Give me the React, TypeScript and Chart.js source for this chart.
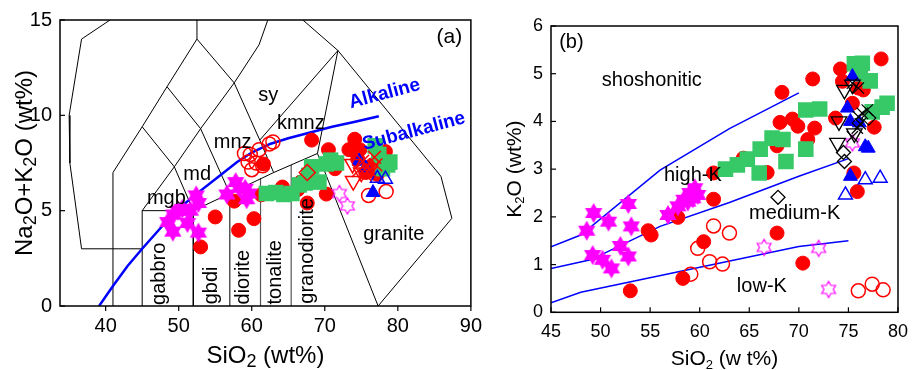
import React, { useEffect, useRef } from 'react';
import { Chart, registerables } from 'chart.js';
Chart.register(...registerables);

type P = [number, number];
const FONT = '"Liberation Sans", Arial, Helvetica, sans-serif';
const RED = '#ff0000';
const GREEN = '#37c867';
const MAG = '#ff00ff';
const BLUE = '#0000ff';
const NONE = 'rgba(0,0,0,0)';

// ---------- Panel (a): TAS ----------
const aXTicks = [40, 50, 60, 70, 80, 90];
const aYTicks = [0, 5, 10, 15];

const aBoundaries: P[][] = [
  [[40.6, 15], [36.7, 14], [35, 10], [35.1, 7.5], [36.7, 3], [45, 3]],
  [[41, 0], [41, 7], [45, 9.4], [48.4, 11.5], [52.5, 14], [52.5, 15]],
  [[52.5, 14], [57.6, 11.7], [61.1, 8.7], [63, 7]],
  [[45, 0], [45, 5], [52, 5], [52, 0]],
  [[45, 5], [49.4, 7.3], [52, 5]],
  [[45, 9.4], [49.4, 7.3], [53, 9.3], [57, 5.9]],
  [[48.4, 11.5], [53, 9.3], [57.6, 11.7]],
  [[52, 5], [57, 5.9], [63, 7], [69, 8], [77.3, 0]],
  [[57, 0], [57, 5.9]],
  [[57.6, 11.7], [61, 13.7], [62.2, 15]],
  [[61.1, 8.7], [71.8, 13.4]],
  [[67, 15], [71.8, 13.4], [69, 8]],
  [[71.8, 13.4], [85.9, 6.8], [87.4, 4.6], [77.3, 0]],
];
const aGreyLines: P[][] = [
  [[61.2, 0], [61.2, 6.7]],
  [[65.4, 0], [65.4, 7.4]],
];
const aIrvine: P[] = [[39.1, 0], [41, 1.05], [43, 2.1], [45, 3.0], [48, 4.3], [50, 5.1], [52, 5.75], [55, 6.65], [58, 7.55], [60, 8.05], [62.5, 8.5], [65, 8.8], [68, 9.1], [71, 9.4], [74, 9.65], [77.4, 9.95]];

const aRedFilled: P[] = [[53.0, 3.1], [55.0, 4.67], [57.6, 5.5], [58.2, 3.97], [60.3, 4.58], [61.3, 5.83], [61.6, 7.45], [64.2, 6.24], [66.3, 6.1], [66.7, 6.5], [68.2, 8.7], [70.5, 8.2], [71.4, 7.2], [70.2, 5.87], [67.6, 5.4], [73.3, 8.2], [74.1, 8.75], [74.8, 8.2], [78.3, 8.1], [75.6, 7.0], [76.5, 7.4], [77.2, 6.9], [74.5, 7.7]];
const aRedOpen: P[] = [[59.0, 8.0], [59.5, 7.55], [60.0, 7.15], [60.6, 7.5], [59.8, 7.95], [61.0, 8.2], [61.5, 7.35], [62.4, 8.5], [62.9, 8.6], [76.0, 5.8], [78.4, 6.0]];
const aGreen: P[] = [[62.0, 5.9], [63.3, 5.95], [64.4, 5.85], [65.5, 5.9], [66.5, 6.35], [67.3, 6.45], [67.8, 6.85], [68.2, 7.3], [69.2, 6.5], [70.2, 7.45], [70.8, 7.65], [71.6, 7.5], [76.9, 8.4], [77.4, 7.95], [77.9, 7.2], [78.6, 7.4], [78.9, 7.55]];
const aMagFilled: P[] = [[48.5, 4.4], [49.2, 3.9], [49.3, 4.8], [49.9, 5.0], [50.5, 5.1], [51.2, 4.35], [51.6, 5.0], [52.4, 5.8], [52.7, 5.4], [52.7, 3.85], [56.6, 5.85], [57.8, 6.5], [58.3, 6.2], [59.1, 6.15], [59.3, 5.6], [59.6, 5.9]];
const aMagOpen: P[] = [[72.0, 5.9], [73.1, 5.25]];
const aRedDiamond: P[] = [[67.6, 7.0]];
const aRedTriDown: P[] = [[73.8, 7.45], [73.9, 6.55], [75.0, 7.0], [76.2, 7.2]];
const aRedCross: P[] = [[75.2, 7.6], [75.8, 7.3], [76.4, 7.0], [77.0, 7.4], [75.5, 6.9], [76.8, 7.8], [74.6, 7.1]];
const aBlueFilled: P[] = [[74.7, 7.6], [76.6, 5.95], [75.6, 7.25]];
const aBlueOpen: P[] = [[78.3, 6.65], [77.2, 6.7]];

// ---------- Panel (b): K2O vs SiO2 ----------
const bXTicks = [45, 50, 55, 60, 65, 70, 75, 80];
const bYTicks = [0, 1, 2, 3, 4, 5, 6];
const bLine1: P[] = [[45, 1.37], [48, 1.62], [56, 2.98], [63, 3.85], [70, 4.6]];
const bLine2: P[] = [[45, 0.92], [49, 1.1], [56, 1.8], [63, 2.3], [70, 2.85], [75, 3.22]];
const bLine3: P[] = [[45, 0.2], [48, 0.42], [70, 1.38], [75, 1.5]];

const bRedFilled: P[] = [[53.0, 0.45], [54.8, 1.71], [55.1, 1.62], [57.8, 1.99], [58.3, 0.71], [60.4, 1.48], [61.4, 2.37], [61.4, 2.92], [66.8, 2.93], [64.4, 3.23], [67.8, 3.49], [68.3, 4.61], [68.1, 3.98], [69.35, 4.05], [69.9, 3.9], [71.4, 4.89], [70.9, 3.62], [71.6, 3.86], [67.8, 1.66], [70.4, 1.03], [73.7, 4.07], [74.2, 5.1], [74.4, 4.84], [75.4, 4.38], [75.55, 2.92], [75.9, 2.53], [78.3, 5.31], [77.6, 3.88], [76.5, 4.66], [76.0, 4.7]];
const bRedOpen: P[] = [[61.4, 1.81], [63.0, 1.66], [59.8, 1.34], [59.1, 0.80], [61.0, 1.06], [62.3, 1.01], [76.0, 0.45], [77.4, 0.59], [78.5, 0.47]];
const bGreen: P[] = [[62.6, 3.0], [63.8, 3.09], [64.8, 3.21], [66.0, 2.92], [66.1, 3.42], [67.3, 3.65], [68.4, 3.62], [68.7, 3.16], [70.7, 3.42], [70.7, 4.24], [72.1, 4.26], [75.6, 5.21], [76.4, 5.22], [76.2, 5.0], [77.2, 4.85], [77.4, 4.2], [78.4, 4.3], [78.9, 4.38]];
const bMagFilled: P[] = [[48.6, 1.71], [49.3, 2.08], [50.8, 1.9], [52.8, 2.27], [53.1, 1.8], [49.2, 1.2], [50.2, 1.1], [51.1, 0.92], [52.0, 1.39], [52.8, 1.17], [56.8, 2.04], [57.8, 2.22], [58.4, 2.36], [58.8, 2.32], [59.0, 2.5], [59.3, 2.39], [59.5, 2.6], [59.8, 2.46]];
const bMagOpen: P[] = [[66.5, 1.36], [72.0, 1.34], [73.0, 0.48], [75.4, 3.55]];
const bBlackDiamond: P[] = [[67.9, 2.41], [74.6, 3.16], [74.5, 3.35], [77.05, 4.07]];
const bBlackTriDown: P[] = [[74.6, 4.66], [75.4, 4.77], [74.05, 4.0], [73.9, 3.55], [75.6, 3.75]];
const bBlackCross: P[] = [[75.4, 4.8], [76.0, 4.7], [76.4, 4.17], [76.9, 4.24], [75.9, 3.86], [75.4, 3.68], [76.2, 3.95], [76.0, 4.1]];
const bBlueFilled: P[] = [[75.4, 4.94], [74.9, 4.28], [75.2, 4.0], [76.1, 3.97], [76.7, 3.47], [77.0, 3.44], [75.2, 2.85]];
const bBlueOpen: P[] = [[74.7, 2.46], [76.7, 2.78], [78.2, 2.81]];

type Label = { t: string; x: number; y: number; rot?: number; size?: number; color?: string; bold?: boolean };
const aLabels: Label[] = [
  { t: 'sy', x: 62.26, y: 11.03 },
  { t: 'kmnz', x: 66.72, y: 9.59 },
  { t: 'mnz', x: 57.39, y: 8.56 },
  { t: 'md', x: 52.54, y: 6.92 },
  { t: 'mgb', x: 48.31, y: 5.63 },
  { t: 'gabbro', x: 47.39, y: 1.69, rot: -90 },
  { t: 'gbdi', x: 54.45, y: 1.08, rot: -90 },
  { t: 'diorite', x: 58.85, y: 1.51, rot: -90 },
  { t: 'tonalite', x: 63.31, y: 1.77, rot: -90 },
  { t: 'granodiorite', x: 67.6, y: 2.89, rot: -90 },
  { t: 'granite', x: 79.45, y: 3.75 },
  { t: '(a)', x: 87.05, y: 14.09, size: 21 },
  { t: 'Alkaline', x: 78.2, y: 11.13, rot: -15, size: 19, color: BLUE, bold: true },
  { t: 'Subalkaline', x: 82.2, y: 9.16, rot: -15, size: 19, color: BLUE, bold: true },
];
const bLabels: Label[] = [
  { t: '(b)', x: 47.06, y: 5.66 },
  { t: 'shoshonitic', x: 55.17, y: 4.86 },
  { t: 'high-K', x: 59.31, y: 2.86 },
  { t: 'medium-K', x: 69.58, y: 2.08 },
  { t: 'low-K', x: 66.27, y: 0.54 },
];

type Part = [string, boolean];
function drawRich(ctx: CanvasRenderingContext2D, parts: Part[], x: number, y: number, size: number, rot: number, subScale: number) {
  ctx.save();
  ctx.translate(x, y);
  ctx.rotate(rot);
  const main = `${size}px ${FONT}`;
  const sub = `${Math.round(size * subScale)}px ${FONT}`;
  let w = 0;
  for (const [t, s] of parts) { ctx.font = s ? sub : main; w += ctx.measureText(t).width; }
  let cx = -w / 2;
  ctx.fillStyle = '#000';
  ctx.textAlign = 'left';
  ctx.textBaseline = 'alphabetic';
  const base = size * 0.36;
  for (const [t, s] of parts) {
    ctx.font = s ? sub : main;
    ctx.fillText(t, cx, s ? base + size * 0.18 : base);
    cx += ctx.measureText(t).width;
  }
  ctx.restore();
}

function hexagram(R: number, fill: boolean, color: string, lw = 1.2) {
  const s = Math.ceil(R * 2 + 4);
  const c = document.createElement('canvas');
  c.width = s; c.height = s;
  const g = c.getContext('2d')!;
  g.translate(s / 2, s / 2);
  g.beginPath();
  const r = R / Math.sqrt(3);
  for (let i = 0; i < 12; i++) {
    const a = -Math.PI / 2 + (i * Math.PI) / 6;
    const rr = i % 2 === 0 ? R : r;
    g.lineTo(rr * Math.cos(a), rr * Math.sin(a));
  }
  g.closePath();
  if (fill) { g.fillStyle = color; g.fill(); } else { g.strokeStyle = color; g.lineWidth = lw; g.stroke(); }
  return c;
}

const pts = (a: P[]) => a.map(([x, y]) => ({ x, y }));
const lineDs = (a: P[], color: string, width: number, order: number) => ({
  data: pts(a), showLine: true, borderColor: color, borderWidth: width, pointRadius: 0, fill: false, tension: 0, order,
});
const markDs = (a: P[], style: any, radius: number, bg: string, border: string, bw: number, order: number, rotation = 0) => ({
  data: pts(a), showLine: false, pointStyle: style, pointRadius: radius, backgroundColor: bg, borderColor: border, borderWidth: bw, rotation, order,
});

function makeDeco(opts: {
  labels: Label[]; xTitle: Part[]; yTitle: Part[]; titleSize: number; subScale: number;
  xTitleOff: number; yTitleOff: number; xTicksIn: boolean; yTicksIn: boolean;
}) {
  return {
    id: 'deco',
    afterDatasetsDraw(chart: any) {
      const ctx: CanvasRenderingContext2D = chart.ctx;
      const { left, right, top, bottom } = chart.chartArea;
      const xs = chart.scales.x, ys = chart.scales.y;
      ctx.save();
      for (const L of opts.labels) {
        const px = xs.getPixelForValue(L.x), py = ys.getPixelForValue(L.y);
        ctx.save();
        ctx.translate(px, py);
        ctx.rotate(((L.rot || 0) * Math.PI) / 180);
        ctx.font = `${L.bold ? 'bold ' : ''}${L.size || 20}px ${FONT}`;
        ctx.fillStyle = L.color || '#000';
        ctx.textAlign = 'center';
        ctx.textBaseline = 'middle';
        ctx.fillText(L.t, 0, 0);
        ctx.restore();
      }
      ctx.strokeStyle = '#000';
      ctx.lineWidth = 1.5;
      ctx.strokeRect(left, top, right - left, bottom - top);
      ctx.lineWidth = 1.2;
      const len = 5;
      for (const t of xs.ticks) {
        const px = xs.getPixelForValue(t.value);
        ctx.beginPath();
        ctx.moveTo(px, bottom);
        ctx.lineTo(px, opts.xTicksIn ? bottom - len : bottom + len);
        ctx.stroke();
      }
      for (const t of ys.ticks) {
        const py = ys.getPixelForValue(t.value);
        ctx.beginPath();
        ctx.moveTo(left, py);
        ctx.lineTo(opts.yTicksIn ? left + len : left - len, py);
        ctx.stroke();
      }
      drawRich(ctx, opts.xTitle, (left + right) / 2, bottom + opts.xTitleOff, opts.titleSize, 0, opts.subScale);
      drawRich(ctx, opts.yTitle, left - opts.yTitleOff, (top + bottom) / 2, opts.titleSize, -Math.PI / 2, opts.subScale);
      ctx.restore();
    },
  };
}

function scaleOpts(min: number, max: number, ticks: number[], fontSize: number, padding: number, fit: (s: any) => void) {
  return {
    type: 'linear' as const,
    min, max,
    afterBuildTicks: (s: any) => { s.ticks = ticks.map((v) => ({ value: v })); },
    afterFit: fit,
    grid: { display: false, drawTicks: false },
    border: { display: false },
    ticks: { color: '#000', font: { family: FONT, size: fontSize }, padding, maxRotation: 0, autoSkip: false },
  };
}

export default function App() {
  const refA = useRef<HTMLCanvasElement>(null);
  const refB = useRef<HTMLCanvasElement>(null);

  useEffect(() => {
    const starFill = hexagram(10, true, MAG);
    const starOpen = hexagram(8, false, MAG, 1.2);

    const dsA = [
      ...aBoundaries.map((b) => lineDs(b, '#000', 1, 100)),
      ...aGreyLines.map((b) => lineDs(b, '#555', 1.2, 100)),
      lineDs(aIrvine, BLUE, 2.5, 90),
      markDs(aRedFilled, 'circle', 7, RED, RED, 1, 60),
      markDs(aRedOpen, 'circle', 7, NONE, RED, 1.5, 55),
      markDs(aGreen, 'rect', 11, GREEN, GREEN, 0, 50),
      markDs(aMagFilled, starFill, 10, MAG, MAG, 0, 45),
      markDs(aMagOpen, starOpen, 8, NONE, MAG, 1, 44),
      markDs(aRedDiamond, 'rectRot', 8, NONE, RED, 1.5, 40),
      markDs(aBlueOpen, 'triangle', 8, NONE, BLUE, 1.5, 38),
      markDs(aBlueFilled, 'triangle', 8, BLUE, BLUE, 1, 36),
      markDs(aRedTriDown, 'triangle', 9, NONE, RED, 1.5, 34, 180),
      markDs(aRedCross, 'crossRot', 9, RED, RED, 1.5, 32),
    ];

    const chartA = new Chart(refA.current!, {
      type: 'scatter',
      data: { datasets: dsA as any },
      options: {
        animation: false, responsive: false, maintainAspectRatio: false, events: [],
        layout: { padding: { left: 0, top: 15, right: 17.3, bottom: 0 } },
        plugins: { legend: { display: false }, tooltip: { enabled: false } },
        scales: {
          x: scaleOpts(33.75, 90, aXTicks, 20, 8, (s: any) => { s.height = 64; }),
          y: scaleOpts(0, 15, aYTicks, 20, 8, (s: any) => { s.width = 60; }),
        },
      } as any,
      plugins: [makeDeco({
        labels: aLabels,
        xTitle: [['SiO', false], ['2', true], [' (wt%)', false]],
        yTitle: [['Na', false], ['2', true], ['O+K', false], ['2', true], ['O (wt%)', false]],
        titleSize: 24, subScale: 0.75, xTitleOff: 48, yTitleOff: 37, xTicksIn: false, yTicksIn: true,
      })],
    });

    const dsB = [
      lineDs(bLine1, BLUE, 1.5, 100),
      lineDs(bLine2, BLUE, 1.5, 100),
      lineDs(bLine3, BLUE, 1.5, 100),
      markDs(bRedFilled, 'circle', 7, RED, RED, 1, 60),
      markDs(bRedOpen, 'circle', 7, NONE, RED, 1.5, 55),
      markDs(bGreen, 'rect', 11, GREEN, GREEN, 0, 50),
      markDs(bMagFilled, starFill, 10, MAG, MAG, 0, 45),
      markDs(bMagOpen, starOpen, 8, NONE, MAG, 1, 44),
      markDs(bBlueOpen, 'triangle', 8, NONE, BLUE, 1.5, 40),
      markDs(bBlueFilled, 'triangle', 8, BLUE, BLUE, 1, 38),
      markDs(bBlackDiamond, 'rectRot', 7, NONE, '#000', 1.3, 36),
      markDs(bBlackTriDown, 'triangle', 9, NONE, '#000', 1.3, 34, 180),
      markDs(bBlackCross, 'crossRot', 8, '#000', '#000', 1.2, 32),
    ];

    const chartB = new Chart(refB.current!, {
      type: 'scatter',
      data: { datasets: dsB as any },
      options: {
        animation: false, responsive: false, maintainAspectRatio: false, events: [],
        layout: { padding: { left: 0, top: 26, right: 13.7, bottom: 0 } },
        plugins: { legend: { display: false }, tooltip: { enabled: false } },
        scales: {
          x: scaleOpts(45, 80, bXTicks, 18, 9, (s: any) => { s.height = 57.7; }),
          y: scaleOpts(0, 6, bYTicks, 18, 8, (s: any) => { s.width = 71; }),
        },
      } as any,
      plugins: [makeDeco({
        labels: bLabels,
        xTitle: [['SiO', false], ['2', true], [' (w t%)', false]],
        yTitle: [['K', false], ['2', true], ['O (wt%)', false]],
        titleSize: 21, subScale: 0.6, xTitleOff: 45, yTitleOff: 38, xTicksIn: true, yTicksIn: true,
      })],
    });

    return () => { chartA.destroy(); chartB.destroy(); };
  }, []);

  return (
    <div style={{ position: 'absolute', left: 0, top: 0, width: 917, height: 370, background: '#fff', overflow: 'hidden' }}>
      <canvas ref={refA} width={490} height={370} style={{ position: 'absolute', left: 0, top: 0, display: 'block' }} />
      <canvas ref={refB} width={437} height={370} style={{ position: 'absolute', left: 480, top: 0, display: 'block' }} />
    </div>
  );
}
